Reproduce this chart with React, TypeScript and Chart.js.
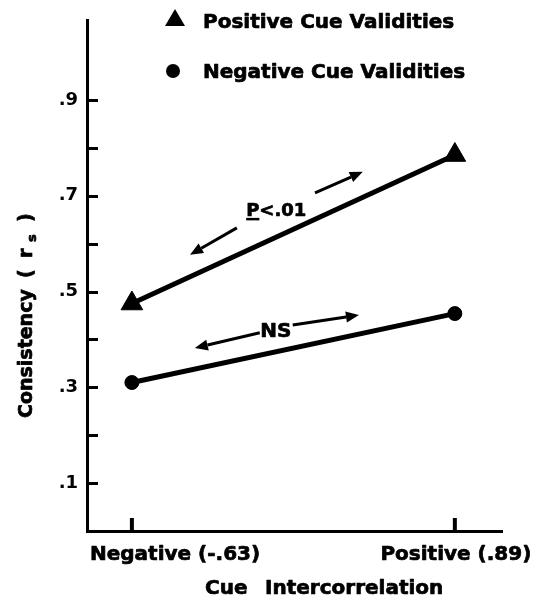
import React, { useEffect, useRef } from 'react';
import { Chart, registerables } from 'chart.js';

Chart.register(...registerables);

// ---- data ----
const categories = ['Negative (-.63)', 'Positive (.89)'];
const categoryPositions = [0, 1];
const seriesNames = ['Positive Cue Validities', 'Negative Cue Validities'];
const positiveCueValidities = [0.475, 0.785];
const negativeCueValidities = [0.31, 0.454];
const yTickValues = [0.1, 0.2, 0.3, 0.4, 0.5, 0.6, 0.7, 0.8, 0.9];
const yTickLabels = ['.1', '', '.3', '', '.5', '', '.7', '', '.9'];
const xTitleWords = ['Cue', 'Intercorrelation'];
const yTitleMain = 'Consistency';
const sigLabels = ['P<.01', 'NS'];
const sigLabelAt = [
  [0.447, 0.658],
  [0.446, 0.405],
];
const sigArrows = [
  [[0.567, 0.706], [0.715, 0.75]],
  [[0.325, 0.633], [0.18, 0.577]],
  [[0.498, 0.43], [0.703, 0.451]],
  [[0.396, 0.414], [0.195, 0.382]],
];

const FONT = "'DejaVu Sans', sans-serif";

function arrow(ctx: CanvasRenderingContext2D, x1: number, y1: number, x2: number, y2: number) {
  const ang = Math.atan2(y2 - y1, x2 - x1);
  const head = 13;
  const hw = 5.5;
  const bx = x2 - Math.cos(ang) * head;
  const by = y2 - Math.sin(ang) * head;
  ctx.lineWidth = 3;
  ctx.beginPath();
  ctx.moveTo(x1, y1);
  ctx.lineTo(bx, by);
  ctx.stroke();
  ctx.beginPath();
  ctx.moveTo(x2, y2);
  ctx.lineTo(bx + Math.sin(ang) * hw, by - Math.cos(ang) * hw);
  ctx.lineTo(bx - Math.sin(ang) * hw, by + Math.cos(ang) * hw);
  ctx.closePath();
  ctx.fill();
}

function heavyText(ctx: CanvasRenderingContext2D, t: string, x: number, y: number) {
  ctx.lineWidth = 0.7;
  ctx.fillText(t, x, y);
  ctx.strokeText(t, x, y);
}

const decor = {
  id: 'decor',
  afterDraw(chart: any) {
    const { ctx, chartArea } = chart;
    const x = chart.scales.x;
    const y = chart.scales.y;
    ctx.save();
    ctx.fillStyle = '#000';
    ctx.strokeStyle = '#000';
    ctx.lineJoin = 'round';

    // inward tick marks
    ctx.lineWidth = 3;
    yTickValues.forEach((v) => {
      const py = Math.round(y.getPixelForValue(v)) + 0.5;
      ctx.beginPath();
      ctx.moveTo(chartArea.left, py);
      ctx.lineTo(chartArea.left + 11, py);
      ctx.stroke();
    });
    ctx.lineWidth = 4;
    categoryPositions.forEach((v) => {
      const px = x.getPixelForValue(v);
      ctx.beginPath();
      ctx.moveTo(px, chartArea.bottom);
      ctx.lineTo(px, chartArea.bottom - 13);
      ctx.stroke();
    });

    // x category labels
    ctx.font = `bold 20px ${FONT}`;
    ctx.textBaseline = 'alphabetic';
    ctx.textAlign = 'left';
    heavyText(ctx, categories[0], chartArea.left + 3, chartArea.bottom + 29);
    ctx.textAlign = 'center';
    heavyText(ctx, categories[1], x.getPixelForValue(categoryPositions[1]) + 1, chartArea.bottom + 29);

    // x title
    ctx.textAlign = 'left';
    heavyText(ctx, xTitleWords[0], 205, 594);
    heavyText(ctx, xTitleWords[1], 265, 594);

    // y title (rotated)
    ctx.save();
    ctx.translate(32, 418);
    ctx.rotate(-Math.PI / 2);
    ctx.textAlign = 'left';
    ctx.font = `bold 19px ${FONT}`;
    heavyText(ctx, yTitleMain, 0, 0);
    heavyText(ctx, '(', 140, 0);
    heavyText(ctx, 'r', 160, 0);
    ctx.font = `bold 13px ${FONT}`;
    heavyText(ctx, 's', 176, 4);
    ctx.font = `bold 19px ${FONT}`;
    heavyText(ctx, ')', 196, 0);
    ctx.restore();

    // legend
    ctx.beginPath();
    ctx.moveTo(175, 9);
    ctx.lineTo(185, 26);
    ctx.lineTo(165, 26);
    ctx.closePath();
    ctx.fill();
    ctx.beginPath();
    ctx.arc(173, 71, 7, 0, Math.PI * 2);
    ctx.fill();
    ctx.font = `bold 20px ${FONT}`;
    ctx.textAlign = 'left';
    heavyText(ctx, seriesNames[0], 203, 28);
    heavyText(ctx, seriesNames[1], 203, 78);

    // significance annotations
    sigArrows.forEach(([a, b]) => {
      arrow(ctx, x.getPixelForValue(a[0]), y.getPixelForValue(a[1]), x.getPixelForValue(b[0]), y.getPixelForValue(b[1]));
    });
    ctx.textAlign = 'center';
    ctx.font = `bold 18px ${FONT}`;
    const p0x = x.getPixelForValue(sigLabelAt[0][0]);
    const p0y = y.getPixelForValue(sigLabelAt[0][1]);
    heavyText(ctx, sigLabels[0], p0x, p0y);
    const totalW = ctx.measureText(sigLabels[0]).width;
    const pW = ctx.measureText('P').width;
    ctx.fillRect(p0x - totalW / 2, p0y + 2, pW, 2.5);
    ctx.font = `bold 20px ${FONT}`;
    heavyText(ctx, sigLabels[1], x.getPixelForValue(sigLabelAt[1][0]), y.getPixelForValue(sigLabelAt[1][1]));

    ctx.restore();
  },
};

export default function App() {
  const ref = useRef<HTMLCanvasElement | null>(null);
  useEffect(() => {
    if (!ref.current) return;
    const chart = new Chart(ref.current, {
      type: 'scatter',
      data: {
        datasets: [
          {
            label: seriesNames[0],
            data: categoryPositions.map((c, i) => ({ x: c, y: positiveCueValidities[i] })),
            showLine: true,
            borderColor: '#000',
            borderWidth: 5,
            pointStyle: 'triangle',
            pointRadius: 12.5,
            pointBackgroundColor: '#000',
            pointBorderColor: '#000',
            pointBorderWidth: 1,
          },
          {
            label: seriesNames[1],
            data: categoryPositions.map((c, i) => ({ x: c, y: negativeCueValidities[i] })),
            showLine: true,
            borderColor: '#000',
            borderWidth: 5,
            pointStyle: 'circle',
            pointRadius: 7,
            pointBackgroundColor: '#000',
            pointBorderColor: '#000',
            pointBorderWidth: 1,
          },
        ],
      },
      options: {
        responsive: false,
        animation: false,
        events: [],
        layout: { padding: { top: 20, right: 37, left: 0, bottom: 0 } },
        plugins: {
          legend: { display: false },
          tooltip: { enabled: false },
          title: { display: false },
        },
        scales: {
          x: {
            type: 'linear',
            min: -0.139,
            max: 1.146,
            grid: { display: false, drawTicks: false },
            border: { display: true, color: '#000', width: 3 },
            ticks: { display: false },
            afterFit: (s: any) => {
              s.height = 73;
            },
          },
          y: {
            type: 'linear',
            min: 0,
            max: 1.067,
            grid: { display: false, drawTicks: false },
            border: { display: true, color: '#000', width: 3 },
            afterBuildTicks: (s: any) => {
              s.ticks = yTickValues.map((v) => ({ value: v }));
            },
            ticks: {
              autoSkip: false,
              color: '#000',
              padding: 9,
              font: { family: FONT, size: 18, weight: 'bold' },
              callback: (_v: any, i: number) => yTickLabels[i],
            },
            afterFit: (s: any) => {
              s.width = 87;
            },
          },
        },
      },
      plugins: [decor],
    } as any);
    return () => chart.destroy();
  }, []);
  return (
    <div style={{ position: 'absolute', left: 0, top: 0, width: 539, height: 604, background: '#fff' }}>
      <canvas ref={ref} width={539} height={604} style={{ display: 'block' }} />
    </div>
  );
}
